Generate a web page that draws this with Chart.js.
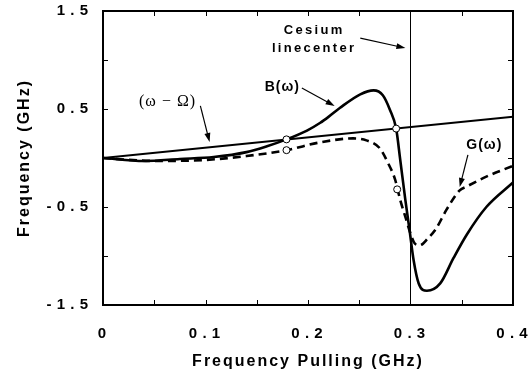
<!DOCTYPE html>
<html>
<head>
<meta charset="utf-8">
<script src="https://cdn.jsdelivr.net/npm/chart.js@4/dist/chart.umd.min.js"></script>
<style>
  html, body { margin: 0; padding: 0; background: #fff; }
  #chart { display: block; }
</style>
</head>
<body>
<canvas id="chart" width="530" height="376"></canvas>
<script>
// values (GHz)
const bX = [0, 0.04, 0.075, 0.108, 0.14, 0.16, 0.179, 0.199, 0.212, 0.22, 0.231, 0.251, 0.264, 0.273, 0.28, 0.286, 0.29, 0.295, 0.299, 0.303, 0.308, 0.316, 0.329, 0.342, 0.355, 0.374, 0.4];
const bY = [0, -0.03, -0.01, 0.01, 0.06, 0.12, 0.19, 0.28, 0.36, 0.42, 0.51, 0.65, 0.69, 0.64, 0.49, 0.30, -0.02, -0.43, -0.73, -1.04, -1.28, -1.355, -1.28, -1.02, -0.78, -0.50, -0.25];

const gX = [0, 0.05, 0.1, 0.14, 0.179, 0.212, 0.244, 0.257, 0.27, 0.278, 0.285, 0.29, 0.295, 0.3, 0.304, 0.309, 0.317, 0.325, 0.335, 0.348, 0.355, 0.374, 0.4];
const gY = [0, -0.03, -0.02, 0.02, 0.08, 0.16, 0.20, 0.18, 0.10, -0.05, -0.22, -0.43, -0.6, -0.77, -0.87, -0.89, -0.82, -0.72, -0.53, -0.33, -0.29, -0.19, -0.08];

const detuneX = [0, 0.4];
const detuneY = [0, 0.42];

const crossX = [0.179, 0.179, 0.286, 0.287];
const crossY = [0.19, 0.08, 0.30, -0.32];

const cesiumLine = 0.3;

const xTickLabels = ['0', '0.1', '0.2', '0.3', '0.4'];
const yTickLabels = ['1.5', '0.5', '-0.5', '-1.5'];

const FONT = '"Liberation Sans", Arial, Helvetica, sans-serif';
const SERIF = '"Liberation Serif", "Times New Roman", serif';

const pts = (xs, ys) => xs.map((x, i) => ({ x, y: ys[i] }));
const spaced = (s) => s.split('').join('\u200a');
const labelFor = (list, value) => {
  const hit = list.find(l => Math.abs(Number(l) - value) < 1e-6);
  return hit === undefined ? '' : spaced(hit);
};

// the original typesetting is letter-spaced; applies to axis text
const letterSpacing = {
  id: 'letterSpacing',
  beforeDraw(chart) { chart.ctx.letterSpacing = '2px'; },
  afterDraw(chart) { chart.ctx.letterSpacing = '0px'; },
};

// inward tick marks on all four sides plus the heavy frame
const frameAndTicks = {
  id: 'frameAndTicks',
  afterDatasetsDraw(chart) {
    const { ctx, chartArea: { left, right, top, bottom }, scales: { x, y } } = chart;
    ctx.save();
    ctx.strokeStyle = '#000';
    ctx.lineWidth = 1;
    ctx.beginPath();
    x.ticks.forEach(t => {
      const px = Math.round(x.getPixelForValue(t.value)) + 0.5;
      ctx.moveTo(px, bottom); ctx.lineTo(px, bottom - 5);
      ctx.moveTo(px, top); ctx.lineTo(px, top + 5);
    });
    y.ticks.forEach(t => {
      const py = Math.round(y.getPixelForValue(t.value)) + 0.5;
      ctx.moveTo(left, py); ctx.lineTo(left + 5, py);
      ctx.moveTo(right, py); ctx.lineTo(right - 5, py);
    });
    ctx.stroke();
    ctx.lineWidth = 2;
    ctx.strokeRect(left, top, right - left, bottom - top);
    ctx.restore();
  }
};

// text labels with arrows, placed in data units
const notes = [
  { lines: ['Cesium', 'linecenter'], x: 0.206, y: [1.306, 1.122], font: `bold 13px ${FONT}`, spacing: '2.3px', from: [0.251, 1.224], to: [0.295, 1.122] },
  { lines: ['B(\u03c9)'], x: 0.175, y: [0.724], font: `bold 14px ${FONT}`, spacing: '1px', from: [0.194, 0.714], to: [0.226, 0.531] },
  { lines: ['(\u03c9 \u2212 \u03a9)'], x: 0.063, y: [0.571], font: `16px ${SERIF}`, spacing: '1px', from: [0.095, 0.531], to: [0.104, 0.163] },
  { lines: ['G(\u03c9)'], x: 0.372, y: [0.133], font: `bold 14px ${FONT}`, spacing: '1px', from: [0.356, 0.031], to: [0.348, -0.296] },
];

const annotations = {
  id: 'annotations',
  afterDraw(chart) {
    const { ctx, scales: { x, y } } = chart;
    ctx.save();
    ctx.fillStyle = '#000';
    ctx.strokeStyle = '#000';
    ctx.textAlign = 'center';
    ctx.textBaseline = 'middle';
    notes.forEach(n => {
      ctx.font = n.font;
      ctx.letterSpacing = n.spacing;
      n.lines.forEach((line, i) => ctx.fillText(line, x.getPixelForValue(n.x), y.getPixelForValue(n.y[i])));
      const x0 = x.getPixelForValue(n.from[0]), y0 = y.getPixelForValue(n.from[1]);
      const x1 = x.getPixelForValue(n.to[0]), y1 = y.getPixelForValue(n.to[1]);
      const a = Math.atan2(y1 - y0, x1 - x0);
      const head = 9;
      ctx.lineWidth = 1.2;
      ctx.beginPath();
      ctx.moveTo(x0, y0);
      ctx.lineTo(x1 - Math.cos(a) * head * 0.8, y1 - Math.sin(a) * head * 0.8);
      ctx.stroke();
      ctx.beginPath();
      ctx.moveTo(x1, y1);
      ctx.lineTo(x1 - Math.cos(a) * head - Math.sin(a) * 3, y1 - Math.sin(a) * head + Math.cos(a) * 3);
      ctx.lineTo(x1 - Math.cos(a) * head + Math.sin(a) * 3, y1 - Math.sin(a) * head - Math.cos(a) * 3);
      ctx.closePath();
      ctx.fill();
    });
    ctx.restore();
  }
};

new Chart(document.getElementById('chart'), {
  type: 'line',
  data: {
    datasets: [
      {
        label: 'crossings',
        data: pts(crossX, crossY),
        showLine: false,
        pointRadius: 3.5,
        pointBackgroundColor: '#fff',
        pointBorderColor: '#000',
        pointBorderWidth: 1,
        order: 0,
      },
      {
        label: 'B(\u03c9)',
        data: pts(bX, bY),
        borderColor: '#000',
        borderWidth: 2.6,
        pointRadius: 0,
        cubicInterpolationMode: 'monotone',
        order: 1,
      },
      {
        label: 'G(\u03c9)',
        data: pts(gX, gY),
        borderColor: '#000',
        borderWidth: 2.6,
        borderDash: [8, 5],
        pointRadius: 0,
        cubicInterpolationMode: 'monotone',
        order: 1,
      },
      {
        label: '(\u03c9 \u2212 \u03a9)',
        data: pts(detuneX, detuneY),
        borderColor: '#000',
        borderWidth: 2,
        pointRadius: 0,
        order: 2,
      },
      {
        label: 'Cesium linecenter',
        data: [{ x: cesiumLine, y: -1.5 }, { x: cesiumLine, y: 1.5 }],
        borderColor: '#000',
        borderWidth: 1,
        pointRadius: 0,
        order: 2,
      },
    ],
  },
  options: {
    responsive: false,
    animation: false,
    devicePixelRatio: 1,
    layout: { padding: { top: 11, right: 17, bottom: 0, left: 0 } },
    plugins: { legend: { display: false }, tooltip: { enabled: false } },
    scales: {
      x: {
        type: 'linear',
        min: 0,
        max: 0.4,
        grid: { display: false, drawTicks: false },
        border: { display: false },
        ticks: {
          stepSize: 0.05,
          autoSkip: false,
          maxRotation: 0,
          padding: 20,
          color: '#000',
          font: { family: FONT, size: 15, weight: 'bold' },
          callback: (v) => labelFor(xTickLabels, v),
        },
        title: {
          display: true,
          text: 'Frequency Pulling (GHz)',
          color: '#000',
          font: { family: FONT, size: 16, weight: 'bold' },
          padding: { top: 0, bottom: 5 },
        },
        afterFit: (scale) => {
          scale.height = 71;
          scale.paddingLeft = 0;
          scale.paddingRight = 0;
        },
      },
      y: {
        type: 'linear',
        min: -1.5,
        max: 1.5,
        grid: { display: false, drawTicks: false },
        border: { display: false },
        ticks: {
          stepSize: 0.5,
          autoSkip: false,
          padding: 13,
          color: '#000',
          font: { family: FONT, size: 15, weight: 'bold' },
          callback: (v) => labelFor(yTickLabels, v),
        },
        title: {
          display: true,
          text: 'Frequency (GHz)',
          color: '#000',
          font: { family: FONT, size: 16, weight: 'bold' },
          padding: { top: 15, bottom: 0 },
        },
        afterFit: (scale) => {
          scale.width = 103;
          scale.paddingTop = 0;
          scale.paddingBottom = 0;
        },
      },
    },
  },
  plugins: [letterSpacing, frameAndTicks, annotations],
});
</script>
</body>
</html>
